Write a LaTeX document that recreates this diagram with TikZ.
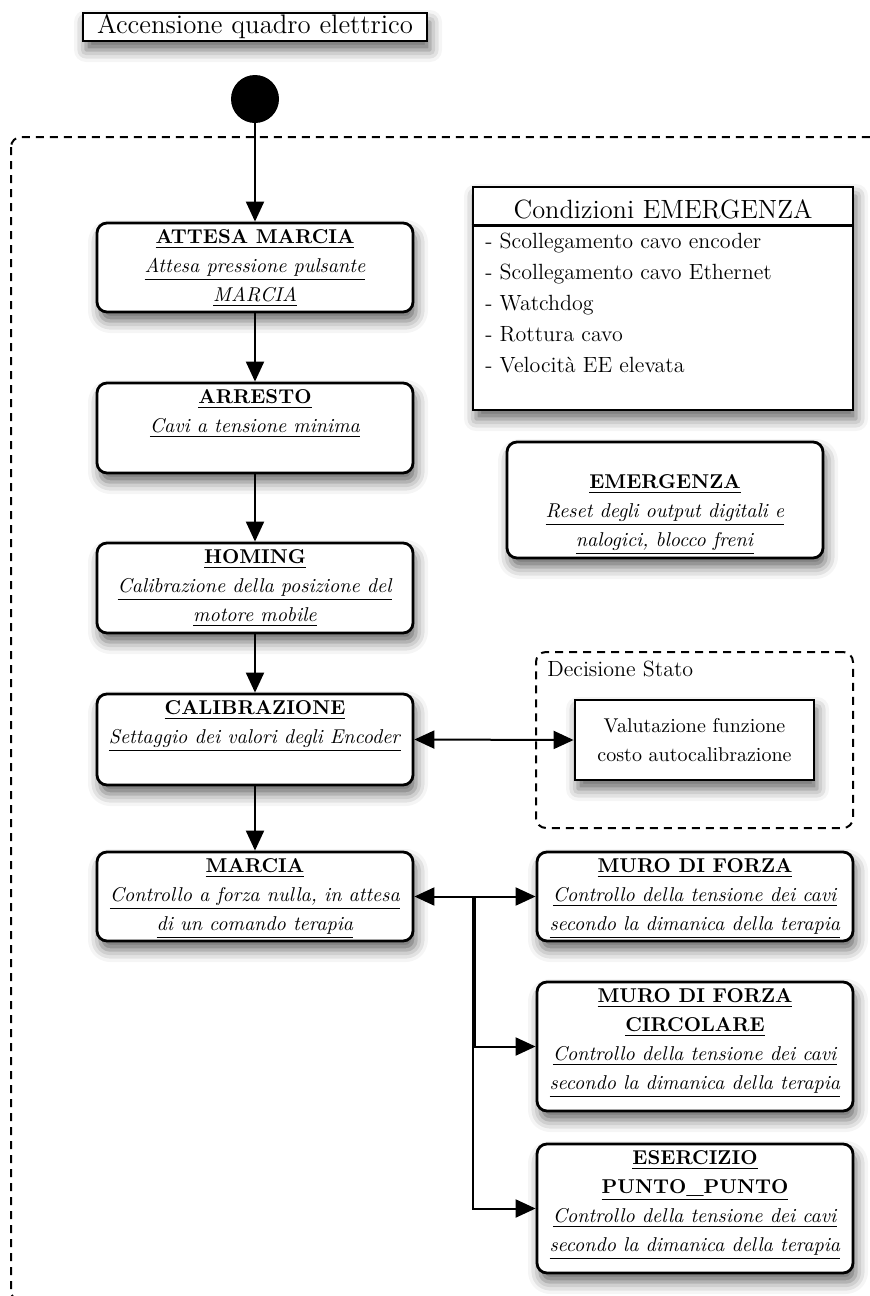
\documentclass[tikz,border=0pt]{standalone}
\usetikzlibrary{arrows.meta,shadows.blur,calc}
\begin{document}
\begin{tikzpicture}[x=0.5pt,y=-0.5pt,
  dropshade/.style={blur shadow={shadow xshift=1.5pt,shadow yshift=-4.5pt,shadow blur radius=6pt,shadow opacity=60}},
  statebox/.style={draw,line width=1.4pt,rounded corners=5pt,fill=white,dropshade,minimum width=158pt,inner sep=0pt},
  stext/.style={anchor=north,align=center,inner sep=0pt,font=\fontsize{10}{14.5}\selectfont},
  tip/.tip={Triangle[length=10pt,width=9pt]},
  flow/.style={line width=1pt,-tip},
  twoway/.style={line width=1pt,tip-tip},
]
\useasboundingbox (0,0) rectangle (870,1296);
\clip (0,0) rectangle (870,1296);

% outer dashed region
\draw[line width=1pt,dash pattern=on 4pt off 3pt,rounded corners=5pt] (11,137) rectangle (905,1301);

% title
\node[draw,line width=0.9pt,fill=white,dropshade,minimum width=172pt,minimum height=14pt,inner sep=0pt,
      font=\fontsize{13.4}{16}\selectfont] (title) at (255,27) {Accensione quadro elettrico};

% initial state
\node[circle,fill=black,minimum size=24pt,inner sep=0pt] (start) at (255,99) {};

% main chain of states
\node[statebox,minimum height=44.5pt] (attesa) at (255,267.5) {};
\node[stext] (attesa-t) at ($(attesa.north)+(0,8)$)
  {\underline{\textbf{ATTESA MARCIA}}\\\underline{\textit{Attesa pressione pulsante}}\\\underline{\textit{MARCIA}}};

\node[statebox,minimum height=45pt] (arresto) at (255,428) {};
\node[stext] (arresto-t) at ($(arresto.north)+(0,8)$)
  {\underline{\textbf{ARRESTO}}\\\underline{\textit{Cavi a tensione minima}}};

\node[statebox,minimum height=45pt] (homing) at (255,588) {};
\node[stext] (homing-t) at ($(homing.north)+(0,8)$)
  {\underline{\textbf{HOMING}}\\\underline{\textit{Calibrazione della posizione del}}\\\underline{\textit{motore mobile}}};

\node[statebox,minimum height=45.5pt] (calib) at (255,739.5) {};
\node[stext] (calib-t) at ($(calib.north)+(0,8)$)
  {\underline{\textbf{CALIBRAZIONE}}\\\underline{\textit{Settaggio dei valori degli Encoder}}};

\node[statebox,minimum height=44.5pt] (marcia) at (255,896.5) {};
\node[stext] (marcia-t) at ($(marcia.north)+(0,8)$)
  {\underline{\textbf{MARCIA}}\\\underline{\textit{Controllo a forza nulla, in attesa}}\\\underline{\textit{di un comando terapia}}};

% therapy states
\node[statebox,minimum height=44.5pt] (muro) at (695,896.5) {};
\node[stext] (muro-t) at ($(muro.north)+(0,8)$)
  {\underline{\textbf{MURO DI FORZA}}\\\underline{\textit{Controllo della tensione dei cavi}}\\\underline{\textit{secondo la dimanica della terapia}}};

\node[statebox,minimum height=64.5pt] (circ) at (695,1046.5) {};
\node[stext] (circ-t) at ($(circ.north)+(0,8)$)
  {\underline{\textbf{MURO DI FORZA}}\\\underline{\textbf{CIRCOLARE}}\\\underline{\textit{Controllo della tensione dei cavi}}\\\underline{\textit{secondo la dimanica della terapia}}};

\node[statebox,minimum height=64.5pt] (eserc) at (695,1208.5) {};
\node[stext] (eserc-t) at ($(eserc.north)+(0,8)$)
  {\underline{\textbf{ESERCIZIO}}\\\underline{\textbf{PUNTO\_PUNTO}}\\\underline{\textit{Controllo della tensione dei cavi}}\\\underline{\textit{secondo la dimanica della terapia}}};

% emergency conditions
\node[draw,line width=1.4pt,fill=white,dropshade,minimum width=190pt,minimum height=111.5pt,inner sep=0pt] (cond) at (663,298.5) {};
\draw[line width=1.2pt] ($(cond.north west)+(0,40)$) -- ($(cond.north east)+(0,40)$);
\node[font=\fontsize{13.2}{16}\selectfont,inner sep=0pt] (cond-h) at (663,209) {Condizioni EMERGENZA};
\node[anchor=north west,align=left,inner sep=0pt,font=\fontsize{11}{15.5}\selectfont] (cond-l) at (485,233)
  {- Scollegamento cavo encoder\\- Scollegamento cavo Ethernet\\- Watchdog\\- Rottura cavo\\- Velocità EE elevata};

\node[statebox,minimum height=58pt] (emerg) at (665,500) {};
\node[stext] (emerg-t) at ($(emerg.north)+(0,34)$)
  {\underline{\textbf{EMERGENZA}}\\\underline{\textit{Reset degli output digitali e}}\\\underline{\textit{nalogici, blocco freni}}};

% state decision group
\node[draw,line width=1pt,dash pattern=on 4pt off 3pt,rounded corners=5pt,minimum width=158.5pt,minimum height=88pt,inner sep=0pt] (decis) at (694.5,740) {};
\node[anchor=north west,inner sep=0pt,font=\fontsize{11}{13}\selectfont] (decis-l) at (547,661) {Decisione Stato};
\node[draw,line width=1.4pt,fill=white,dropshade,minimum width=119.5pt,minimum height=40pt,inner sep=0pt,align=center,
      font=\fontsize{10}{14.5}\selectfont] (valut) at (694.5,740) {Valutazione funzione\\costo autocalibrazione};

% transitions
\draw[flow] (start) -- (attesa);
\draw[flow] (attesa) -- (arresto);
\draw[flow] (arresto) -- (homing);
\draw[flow] (homing) -- (calib);
\draw[flow] (calib) -- (marcia);
\draw[twoway] (calib.east) -- (valut.west);
\draw[twoway] (marcia.east) -- (muro.west);
\coordinate (fork1) at (473,896.5);
\coordinate (fork2) at (475,896.5);
\draw[flow] (fork2) |- (circ.west);
\draw[flow] (fork1) |- (eserc.west);
\end{tikzpicture}
\end{document}
